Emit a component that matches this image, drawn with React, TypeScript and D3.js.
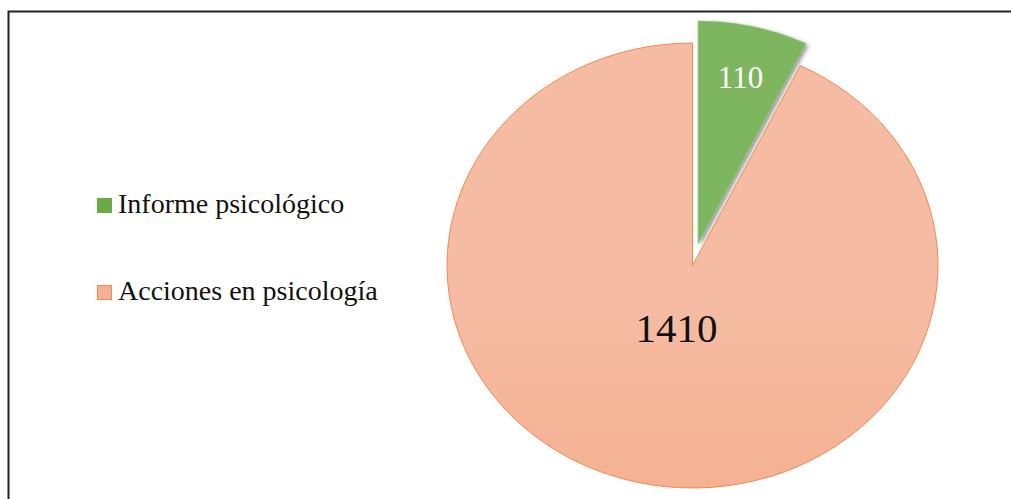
import React from "react";
import * as d3 from "d3";

const categories = ["Informe psicológico", "Acciones en psicología"];
const values = [110, 1410];
const labelRadiusFactor = [0.766, 0.29];

const W = 1011;
const H = 499;
const cx = 692.5;
const cy = 265.5;
const rx = 245.5;
const ry = 222.5;
const explode = 25;

export default function App() {
  const pie = d3.pie<number>().sort(null).value((d) => d)(values);
  const arc = d3.arc<d3.PieArcDatum<number>>().innerRadius(0).outerRadius(rx);
  const sy = ry / rx;

  const offsetOf = (i: number) => {
    if (i !== 0) return [0, 0];
    const a = (pie[i].startAngle + pie[i].endAngle) / 2;
    return [explode * Math.sin(a), -explode * Math.cos(a) * sy];
  };

  const labelPos = (i: number) => {
    const k = rx * labelRadiusFactor[i];
    const c = d3.arc<d3.PieArcDatum<number>>().innerRadius(k).outerRadius(k).centroid(pie[i]);
    const [ox, oy] = offsetOf(i);
    return [cx + ox + c[0], cy + oy + c[1] * sy];
  };

  const fontFam =
    '"Times New Roman", Tinos, "Liberation Serif", "Noto Serif", "DejaVu Serif", FreeSerif, "Nimbus Roman", Georgia, serif';
  const legendY = [213, 300];

  return (
    <svg
      width={W}
      height={H}
      style={{ position: "absolute", left: 0, top: 0, background: "#fff" }}
    >
      <defs>
        <linearGradient id="gSalmon" gradientUnits="userSpaceOnUse" x1="0" y1={cy - ry} x2="0" y2={cy + ry}>
          <stop offset="0" stopColor="#f5bca3" />
          <stop offset="1" stopColor="#f4a47f" />
        </linearGradient>
        <linearGradient id="gGreen" gradientUnits="userSpaceOnUse" x1="0" y1={cy - ry - explode} x2="0" y2={cy}>
          <stop offset="0" stopColor="#7eb65e" />
          <stop offset="1" stopColor="#5aa02c" />
        </linearGradient>
        <filter id="shadow" x="-30%" y="-30%" width="160%" height="160%">
          <feDropShadow dx="2" dy="2" stdDeviation="2.2" floodColor="#000" floodOpacity="0.45" />
        </filter>
      </defs>
      <rect x={0} y={0} width={W} height={H} fill="#fff" />
      <path
        d={`M${8.5},${H + 5} L${8.5},${11.5} L${W + 5},${11.5}`}
        fill="none"
        stroke="#222"
        strokeWidth={2}
      />
      {pie.map((p, i) => {
        const [ox, oy] = offsetOf(i);
        return (
          <g key={categories[i]} transform={`translate(${cx + ox},${cy + oy}) scale(1,${sy})`}>
            <path
              d={arc(p) || ""}
              fill={i === 0 ? "url(#gGreen)" : "url(#gSalmon)"}
              stroke={i === 0 ? "#8cc06e" : "#ef8a4f"}
              strokeWidth={i === 0 ? 0.6 : 1}
              vectorEffect="non-scaling-stroke"
              filter={i === 0 ? "url(#shadow)" : undefined}
            />
          </g>
        );
      })}
      {pie.map((p, i) => {
        const [x, y] = labelPos(i);
        return (
          <text
            key={"l" + i}
            x={x}
            y={y}
            textAnchor="middle"
            dominantBaseline="central"
            style={{ fontFamily: fontFam }}
            fontSize={i === 0 ? 31 : 41}
            fill={i === 0 ? "#ffffff" : "#111111"}
          >
            {values[i]}
          </text>
        );
      })}
      {categories.map((c, i) => (
        <g key={"lg" + i}>
          <rect
            x={97.5}
            y={legendY[i] - 14.5}
            width={14}
            height={14}
            fill={i === 0 ? "#6aab45" : "#f5b196"}
            stroke={i === 0 ? "#6aab45" : "#ef8a4f"}
            strokeWidth={1}
          />
          <text x={118} y={legendY[i]} style={{ fontFamily: fontFam }} fontSize={28} fill="#111">
            {c}
          </text>
        </g>
      ))}
    </svg>
  );
}
